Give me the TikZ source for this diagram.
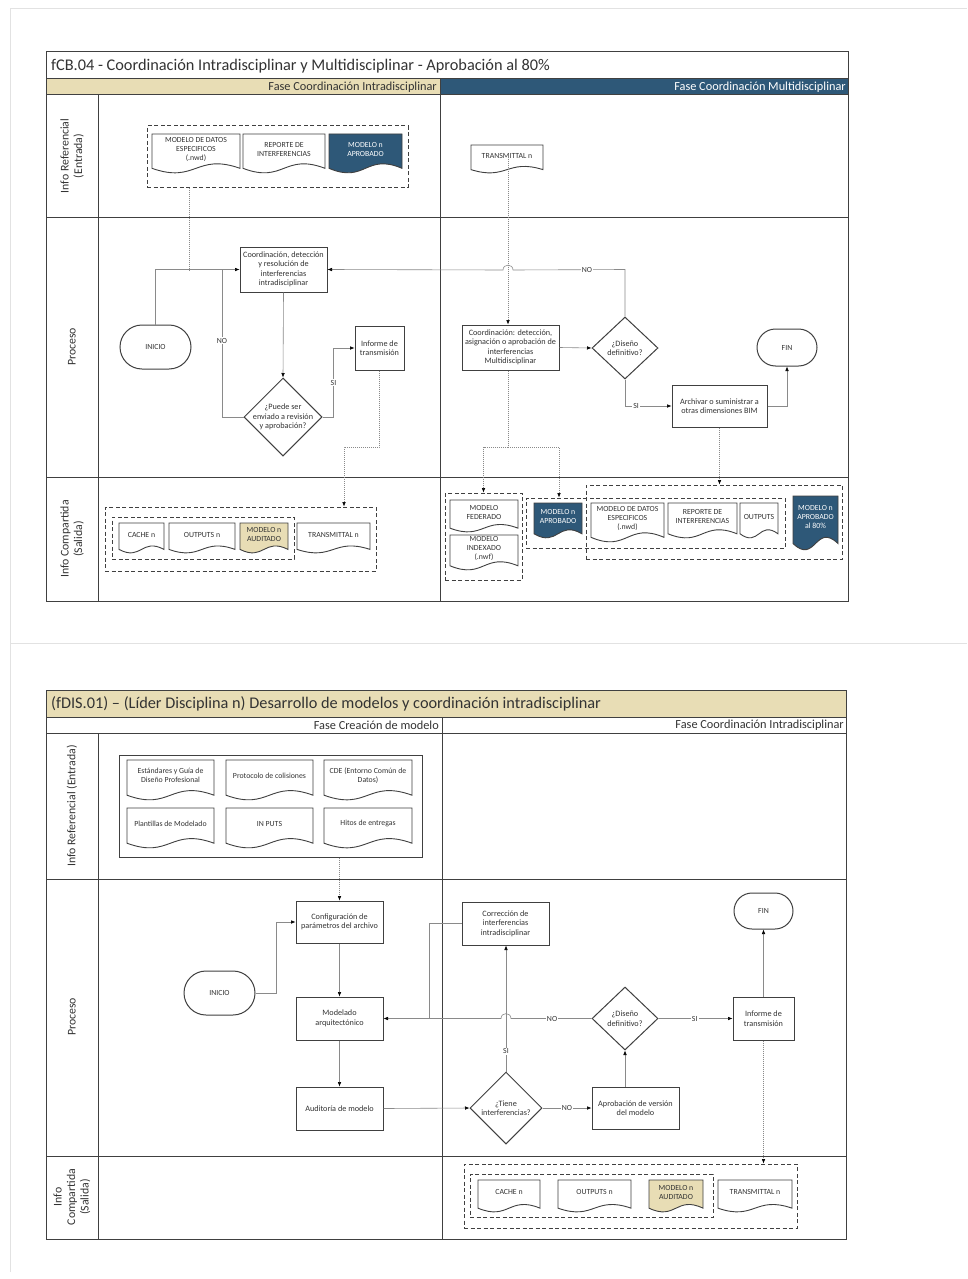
\documentclass[tikz,border=0pt]{standalone}
\usepackage{fontspec}
\setmainfont{Carlito}
\usetikzlibrary{arrows.meta,shapes.geometric,shapes.misc,fit}

\definecolor{framec}{HTML}{404040}
\definecolor{tanfill}{HTML}{E8DDB5}
\definecolor{bluefill}{HTML}{2E5878}
\definecolor{connc}{HTML}{8A8A8A}
\definecolor{ink}{HTML}{333333}
\definecolor{pagec}{HTML}{E2E2E2}

% document symbol: rectangle with a wavy lower edge, plus its named text node
\newcommand{\docshape}[8]{%
  \path[docline, fill=#6] (#2,#3) -- (#4,#3) -- (#4,{#5-0.12*(#5-#3)})
    .. controls ({(#2+#4)/2},{#5-0.52*(#5-#3)}) and ({(#2+#4)/2},{#5+0.28*(#5-#3)}) ..
    (#2,{#5-0.12*(#5-#3)}) -- cycle;
  \node[doctext, text=#7] (#1) at ({(#2+#4)/2},{(#3+#5)/2-0.11*(#5-#3)}) {#8};
}

\tikzset{
  lanes/.style={draw=framec, line width=1pt},
  pageline/.style={draw=pagec, line width=0.8pt},
  titletext/.style={font=\fontsize{16.3}{18}\selectfont, text=ink, inner sep=0pt},
  phasetext/.style={font=\fontsize{12.3}{14}\selectfont, text=ink, inner sep=0pt},
  lanetext/.style={font=\fontsize{11.8}{13.5}\selectfont, text=ink, rotate=90, align=center, inner sep=0pt},
  proc/.style={rectangle, draw=framec, line width=1pt, fill=white, align=center, inner sep=1pt,
    font=\fontsize{8.2}{9.4}\selectfont, text=ink},
  term/.style={rounded rectangle, draw=framec, line width=1pt, fill=white, inner sep=1pt,
    font=\fontsize{7.8}{9}\selectfont, text=ink},
  decision/.style={diamond, draw=framec, line width=1pt, fill=white, inner sep=0pt},
  dectext/.style={align=center, font=\fontsize{8.2}{9.4}\selectfont, text=ink, inner sep=0pt},
  grp/.style={draw=framec, line width=1pt, dash pattern=on 4pt off 2.5pt, inner sep=0pt},
  grpsolid/.style={draw=framec, line width=1pt, inner sep=0pt},
  docline/.style={draw=framec, line width=0.9pt},
  doctext/.style={align=center, font=\fontsize{7.8}{8.9}\selectfont, inner sep=0pt},
  cline/.style={draw=connc, line width=0.6pt},
  arr/.style={cline, -{Latex[length=4.5pt,width=3.6pt,color=black]}},
  dotline/.style={draw=connc, line width=0.6pt, dash pattern=on 0.8pt off 1.2pt},
  dotarr/.style={dotline, -{Latex[length=4.5pt,width=3.6pt,color=black]}},
  lbl/.style={fill=white, inner sep=1pt, font=\fontsize{7.8}{9}\selectfont, text=ink},
}

\begin{document}
\begin{tikzpicture}[x=1pt,y=-1pt]
\useasboundingbox (0,0) rectangle (967,1279);
\fill[white] (0,0) rectangle (967,1279);

% sheet borders
\draw[pageline] (10,1272) -- (10,8) -- (967,8);
\draw[pageline] (10,643) -- (967,643);

% ================= fCB.04 =================
\fill[tanfill] (46,79) rectangle (440,95);
\fill[bluefill] (440,79) rectangle (848,95);
\draw[lanes] (46,52) rectangle (848,601);
\draw[lanes] (46,79) -- (848,79);
\draw[lanes] (46,95) -- (848,95);
\draw[lanes] (98,95) -- (98,601);
\draw[lanes] (46,217) -- (848,217);
\draw[lanes] (46,477) -- (848,477);
\draw[lanes] (440,79) -- (440,601);

\node[titletext, anchor=west] (titleA) at (51,66) {fCB.04 - Coordinación Intradisciplinar y Multidisciplinar - Aprobación al 80\%};
\node[phasetext, anchor=east] (phA1) at (437,87.5) {Fase Coordinación Intradisciplinar};
\node[phasetext, anchor=east, text=white] (phA2) at (846,87.5) {Fase Coordinación Multidisciplinar};
\node[lanetext] (laneA1) at (72,156) {Info Referencial\\(Entrada)};
\node[lanetext] (laneA2) at (72,347) {Proceso};
\node[lanetext] (laneA3) at (72,539) {Info Compartida\\(Salida)};

% input documents
\node[grp, fit={(147,126) (408,187)}] (gA) {};
\docshape{dA1}{152}{134}{240}{173}{white}{ink}{MODELO DE DATOS\\ESPECIFICOS\\(.nwd)}
\docshape{dA2}{243}{134}{325}{173}{white}{ink}{REPORTE DE\\INTERFERENCIAS}
\docshape{dA3}{329}{134}{402}{173}{bluefill}{white}{MODELO n\\APROBADO}
\docshape{dB1}{471}{145}{543}{173}{white}{ink}{TRANSMITTAL n}

% process
\node[proc, minimum width=87, minimum height=45] (coord1) at (283.5,269.5) {Coordinación, detección\\y resolución de\\interferencias\\intradisciplinar};
\node[term, minimum width=73, minimum height=44] (ini1) at (155.5,347) {INICIO};
\node[decision, minimum width=78, minimum height=78,
  label={[dectext]center:{¿Puede ser\\enviado a revisión\\y aprobación?}}] (dia1) at (283,417) {};
\node[proc, minimum width=49, minimum height=44] (inf1) at (379.5,348) {Informe de\\transmisión};
\node[proc, minimum width=97, minimum height=45] (multi) at (510.5,347.5) {Coordinación: detección,\\asignación o aprobación de\\interferencias\\Multidisciplinar};
\node[decision, minimum width=66, minimum height=62,
  label={[dectext]center:{¿Diseño\\definitivo?}}] (dia2) at (625,348) {};
\node[proc, minimum width=95, minimum height=42] (arch) at (719.5,406) {Archivar o suministrar a\\otras dimensiones BIM};
\node[term, minimum width=62, minimum height=37] (fin1) at (787,347.5) {FIN};

% output documents
\node[grp, fit={(105,507) (376,571)}] (gC) {};
\node[grp, fit={(112,517) (294,559)}] (gC2) {};
\docshape{dC1}{119}{523}{164}{553}{white}{ink}{CACHE n}
\docshape{dC2}{169}{523}{235}{553}{white}{ink}{OUTPUTS n}
\docshape{dC3}{240}{523}{288}{553}{tanfill}{ink}{MODELO n\\AUDITADO}
\docshape{dC4}{297}{523}{370}{553}{white}{ink}{TRANSMITTAL n}

\node[grp, fit={(445,493) (522,580)}] (gD) {};
\docshape{dD1}{450}{500}{518}{532}{white}{ink}{MODELO\\FEDERADO}
\docshape{dD2}{450}{535}{518}{570}{white}{ink}{MODELO\\INDEXADO\\(.nwf)}
\node[grp, fit={(526,498) (785,548)}] (gE) {};
\docshape{dE1}{534}{503}{582}{538}{bluefill}{white}{MODELO n\\APROBADO}
\node[grp, fit={(586,485) (842,559)}] (gF) {};
\docshape{dF1}{591}{503}{664}{542}{white}{ink}{MODELO DE DATOS\\ESPECIFICOS\\(.nwd)}
\docshape{dF2}{668}{503}{737}{538}{white}{ink}{REPORTE DE\\INTERFERENCIAS}
\docshape{dF3}{740}{503}{778}{538}{white}{ink}{OUTPUTS}
\docshape{dF4}{793}{496}{838}{550}{bluefill}{white}{MODELO n\\APROBADO\\al 80\%}

% connectors
\coordinate (jA1) at (189,270);
\coordinate (jA2) at (222,270);
\coordinate (pA1) at (344,447);
\coordinate (pA2) at (508,447);
\coordinate (pA3) at (559,447);
\draw[dotline] (jA1 |- gA.south) -- (jA1);
\draw[arr] (ini1.north) |- (coord1.west);
\draw[arr] (coord1.south) -- (dia1.north);
\draw[cline] (dia1.west) -| node[lbl, pos=0.76] {NO} (jA2);
\draw[arr] (dia1.east) -- ++(11,0) |- node[lbl, pos=0.25] {SI} (inf1.west);
\draw[dotarr] (inf1.south) |- (pA1) -- (pA1 |- gC.north);
\draw[arr] (dia2.north) -- (dia2.north |- coord1.east) -- node[lbl, pos=0.34] {NO} (513,270)
  .. controls (513,263.5) and (503,263.5) .. (503,270) -- (coord1.east);
\draw[dotarr] (pA2 |- dB1.south) -- (pA2 |- multi.north);
\draw[arr] (multi.east) -- (dia2.west);
\draw[arr] (dia2.south) |- node[lbl, pos=0.62] {SI} (arch.west);
\draw[arr] (arch.east) -| (fin1.south);
\draw[dotline] (pA2 |- multi.south) -- (pA2);
\draw[dotarr] (pA2) -| (gD.north);
\draw[dotarr] (pA2) -- (pA3) -- (pA3 |- gE.north);
\draw[dotarr] (arch.south) -- (arch.south |- gF.north);

% ================= fDIS.01 =================
\fill[tanfill] (46,690) rectangle (846,717);
\draw[lanes] (46,690) rectangle (846,1239);
\draw[lanes] (46,717) -- (846,717);
\draw[lanes] (46,733) -- (846,733);
\draw[lanes] (98,733) -- (98,1239);
\draw[lanes] (46,879) -- (846,879);
\draw[lanes] (46,1156) -- (846,1156);
\draw[lanes] (442,717) -- (442,1239);

\node[titletext, anchor=west] (titleB) at (51,704) {(fDIS.01) – (Líder Disciplina n) Desarrollo de modelos y coordinación intradisciplinar};
\node[phasetext, anchor=east] (phB1) at (439,725.5) {Fase Creación de modelo};
\node[phasetext, anchor=east] (phB2) at (844,725.5) {Fase Coordinación Intradisciplinar};
\node[lanetext] (laneB1) at (72,806) {Info Referencial (Entrada)};
\node[lanetext] (laneB2) at (72,1017) {Proceso};
\node[lanetext] (laneB3) at (72,1197) {Info\\Compartida\\(Salida)};

% reference documents
\node[grpsolid, fit={(119,755) (422,857)}] (gG) {};
\docshape{dG1}{127}{760}{214}{800}{white}{ink}{Estándares y Guía de\\Diseño Profesional}
\docshape{dG2}{226}{760}{313}{800}{white}{ink}{Protocolo de colisiones}
\docshape{dG3}{324}{760}{412}{800}{white}{ink}{CDE (Entorno Común de\\Datos)}
\docshape{dG4}{127}{808}{214}{848}{white}{ink}{Plantillas de Modelado}
\docshape{dG5}{226}{808}{313}{848}{white}{ink}{IN PUTS}
\docshape{dG6}{324}{808}{412}{848}{white}{ink}{Hitos de entregas}

% process
\node[proc, minimum width=87, minimum height=42] (cfg) at (339.5,922) {Configuración de\\parámetros del archivo};
\node[term, minimum width=73, minimum height=44] (ini2) at (219.5,993) {INICIO};
\node[proc, minimum width=87, minimum height=43] (mod) at (339.5,1018.5) {Modelado\\arquitectónico};
\node[proc, minimum width=87, minimum height=43] (aud) at (339.5,1108.5) {Auditoría de modelo};
\node[proc, minimum width=87, minimum height=43] (corr) at (505.5,923.5) {Corrección de\\interferencias\\intradisciplinar};
\node[decision, minimum width=72, minimum height=72,
  label={[dectext]center:{¿Tiene\\interferencias?}}] (dia3) at (506,1108) {};
\node[proc, minimum width=87, minimum height=42] (apr) at (635.5,1108) {Aprobación de versión\\del modelo};
\node[decision, minimum width=66, minimum height=63,
  label={[dectext]center:{¿Diseño\\definitivo?}}] (dia4) at (625,1018.5) {};
\node[proc, minimum width=61, minimum height=43] (inf2) at (763.5,1018.5) {Informe de\\transmisión};
\node[term, minimum width=61, minimum height=36] (fin2) at (763.5,911) {FIN};

% output documents
\node[grp, fit={(464,1164) (797,1228)}] (gH) {};
\node[grp, fit={(470,1174) (713,1217)}] (gH2) {};
\docshape{dH1}{478}{1180}{540}{1212}{white}{ink}{CACHE n}
\docshape{dH2}{558}{1180}{631}{1212}{white}{ink}{OUTPUTS n}
\docshape{dH3}{649}{1180}{703}{1212}{tanfill}{ink}{MODELO n\\AUDITADO}
\docshape{dH4}{718}{1180}{792}{1212}{white}{ink}{TRANSMITTAL n}

% connectors
\coordinate (jB1) at (429,1018.5);
\draw[dotarr] (cfg.north |- gG.south) -- (cfg.north);
\draw[arr] (ini2.east) -- ++(21,0) |- (cfg.west);
\draw[arr] (cfg.south) -- (mod.north);
\draw[arr] (mod.south) -- (aud.north);
\draw[arr] (aud.east) -- (dia3.west);
\draw[arr] (dia3.north) -- node[lbl, pos=0.16] {SI} (dia3.north |- corr.south);
\draw[arr] (dia3.east) -- node[lbl] {NO} (apr.west);
\draw[arr] (dia4.south |- apr.north) -- (dia4.south);
\draw[arr] (dia4.west) -- node[lbl, pos=0.49] {NO} (511,1018.5)
  .. controls (511,1012) and (501,1012) .. (501,1018.5) -- (mod.east);
\draw[cline] (corr.west) -| (jB1);
\draw[arr] (dia4.east) -- node[lbl, pos=0.49] {SI} (inf2.west);
\draw[arr] (inf2.north) -- (fin2.south);
\draw[dotarr] (inf2.south) -- (inf2.south |- gH.north);
\end{tikzpicture}
\end{document}
